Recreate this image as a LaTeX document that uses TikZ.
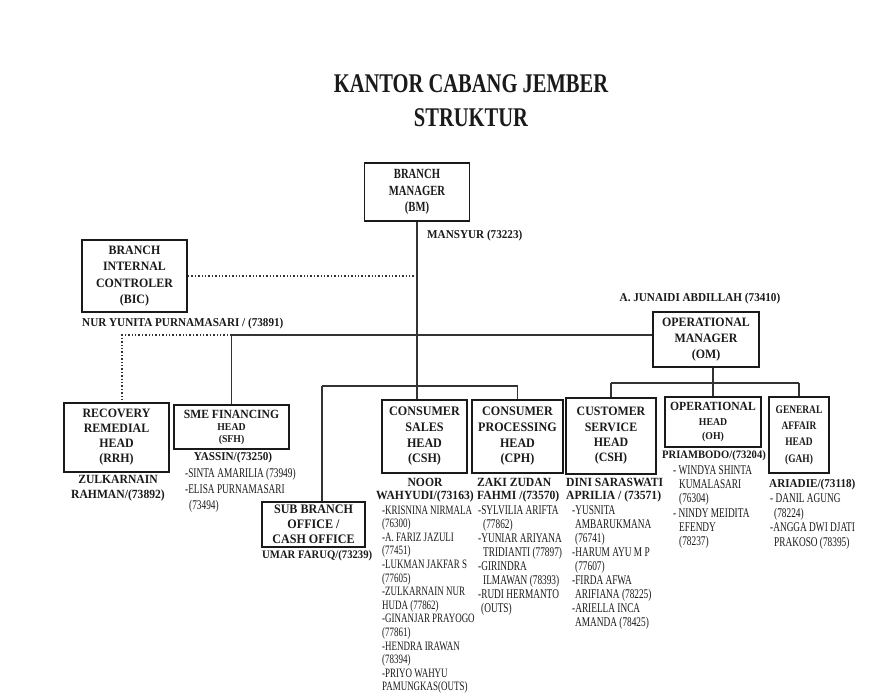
\documentclass[tikz,border=0pt]{standalone}
\usepackage{fontspec}
\setmainfont[FakeStretch=0.93]{Liberation Serif}
\newfontfamily\narrowfont[FakeStretch=0.76]{Liberation Serif}
\newfontfamily\listfont[FakeStretch=0.7]{Liberation Serif}
\newfontfamily\gahfont[FakeStretch=0.82]{Liberation Serif}
\definecolor{ink}{HTML}{1A1A1A}
\definecolor{wire}{HTML}{333333}
\tikzset{
  box/.style={draw=ink, line width=1.8pt, align=center, inner sep=0pt, text=ink,
    font=\bfseries\fontsize{13}{15.7}\selectfont},
  conn/.style={draw=wire, line width=1.1pt},
  dotconn/.style={draw=wire, line width=1.3pt, dash pattern=on 1.4pt off 2pt},
  nm/.style={inner sep=0pt, align=center, text=ink, font=\bfseries\fontsize{12}{13.5}\selectfont},
  lst/.style={inner sep=0pt, anchor=north west, align=left, text=ink,
    font=\listfont\fontsize{13.3}{13.6}\selectfont}
}
\begin{document}
\begin{tikzpicture}[x=1pt,y=-1pt]
\useasboundingbox[fill=white] (0,0) rectangle (893,696);

% title
\node[inner sep=0pt, align=center, text=ink, font=\narrowfont\bfseries\fontsize{27}{34}\selectfont] (title) at (471,101) {KANTOR CABANG JEMBER\\STRUKTUR};

% boxes
\node[box, minimum width=105pt, minimum height=58pt, font=\narrowfont\bfseries\fontsize{14}{16.5}\selectfont] (BM) at (417,192) {BRANCH\\MANAGER\\(BM)};
\node[box, minimum width=105pt, minimum height=72pt, font=\bfseries\fontsize{12.8}{16.3}\selectfont] (BIC) at (134.5,276) {BRANCH\\INTERNAL\\CONTROLER\\(BIC)};
\node[box, minimum width=106pt, minimum height=55pt, font=\bfseries\fontsize{12.8}{16}\selectfont] (OM) at (706,339.5) {OPERATIONAL\\MANAGER\\(OM)};
\node[box, minimum width=105pt, minimum height=69pt, font=\bfseries\fontsize{12.8}{15}\selectfont] (RRH) at (116.5,437.5) {RECOVERY\\REMEDIAL\\HEAD\\(RRH)};
\node[box, minimum width=115pt, minimum height=44pt, font=\bfseries\fontsize{10.5}{12}\selectfont] (SFH) at (231.5,427) {{\fontsize{12.5}{12}\selectfont SME FINANCING}\\HEAD\\(SFH)};
\node[box, minimum width=103pt, minimum height=45pt, font=\bfseries\fontsize{13}{15}\selectfont] (SUB) at (313.5,524.5) {SUB BRANCH\\OFFICE /\\CASH OFFICE};
\node[box, minimum width=85pt, minimum height=73pt] (CSH) at (424.5,436.5) {CONSUMER\\SALES\\HEAD\\(CSH)};
\node[box, minimum width=91pt, minimum height=73pt] (CPH) at (517.5,436.5) {CONSUMER\\PROCESSING\\HEAD\\(CPH)};
\node[box, minimum width=90pt, minimum height=76pt, font=\bfseries\fontsize{12.8}{15.3}\selectfont] (CS) at (611,436) {CUSTOMER\\SERVICE\\HEAD\\(CSH)};
\node[box, minimum width=96pt, minimum height=50pt, font=\bfseries\fontsize{10.5}{14.5}\selectfont] (OH) at (713,422) {{\fontsize{12.5}{14.5}\selectfont OPERATIONAL}\\HEAD\\(OH)};
\node[box, minimum width=60pt, minimum height=76pt, font=\gahfont\bfseries\fontsize{11.5}{16.3}\selectfont] (GAH) at (799,435) {GENERAL\\AFFAIR\\HEAD\\(GAH)};

% names
\node[nm, anchor=west] (bmn) at (427,236) {MANSYUR (73223)};
\node[nm, anchor=west] (bicn) at (82,324) {NUR YUNITA PURNAMASARI / (73891)};
\node[nm] (omn) at (700,299) {A. JUNAIDI ABDILLAH (73410)};
\node[nm, font=\bfseries\fontsize{12.5}{15}\selectfont] (rrhn) at (118,488.5) {ZULKARNAIN\\RAHMAN/(73892)};
\node[nm] (sfhn) at (233,458) {YASSIN/(73250)};
\node[nm, anchor=west, font=\bfseries\fontsize{11.5}{13}\selectfont] (subn) at (262,556) {UMAR FARUQ/(73239)};
\node[nm, font=\bfseries\fontsize{12.5}{13}\selectfont] (cshn) at (425,490.5) {NOOR\\WAHYUDI/(73163)};
\node[nm, anchor=west, align=left, font=\bfseries\fontsize{12.5}{13}\selectfont] (cphn) at (477,490.5) {ZAKI ZUDAN\\FAHMI /(73570)};
\node[nm, anchor=west, align=left, font=\bfseries\fontsize{12.5}{13}\selectfont] (csn) at (566,490.5) {DINI SARASWATI\\APRILIA / (73571)};
\node[nm, anchor=west, font=\bfseries\fontsize{11.4}{13}\selectfont] (ohn) at (662,456) {PRIAMBODO/(73204)};
\node[nm, anchor=west] (gahn) at (769,485) {ARIADIE/(73118)};

% lists
\node[lst, font=\listfont\fontsize{13.3}{16}\selectfont] (sfhl) at (185,468.5) {-SINTA AMARILIA (73949)\\-ELISA PURNAMASARI\\\hspace*{4pt}(73494)};
\node[lst, font=\listfont\fontsize{12.8}{13.6}\selectfont] (cshl) at (382,505.5) {-KRISNINA NIRMALA\\(76300)\\-A. FARIZ JAZULI\\(77451)\\-LUKMAN JAKFAR S\\(77605)\\-ZULKARNAIN NUR\\HUDA (77862)\\-GINANJAR PRAYOGO\\(77861)\\-HENDRA IRAWAN\\(78394)\\-PRIYO WAHYU\\PAMUNGKAS(OUTS)};
\node[lst, font=\listfont\fontsize{13.3}{14}\selectfont] (cphl) at (478,505.5) {-SYLVILIA ARIFTA\\\hspace*{5pt}(77862)\\-YUNIAR ARIYANA\\\hspace*{5pt}TRIDIANTI (77897)\\-GIRINDRA\\\hspace*{5pt}ILMAWAN (78393)\\-RUDI HERMANTO\\\hspace*{3pt}(OUTS)};
\node[lst, font=\listfont\fontsize{13.3}{14}\selectfont] (csl) at (572,505.5) {-YUSNITA\\\hspace*{3pt}AMBARUKMANA\\\hspace*{3pt}(76741)\\-HARUM AYU M P\\\hspace*{3pt}(77607)\\-FIRDA AFWA\\\hspace*{3pt}ARIFIANA (78225)\\-ARIELLA INCA\\\hspace*{3pt}AMANDA (78425)};
\node[lst, font=\listfont\fontsize{13.3}{14.2}\selectfont] (ohl) at (673,465.5) {- WINDYA SHINTA\\\hspace*{6pt}KUMALASARI\\\hspace*{6pt}(76304)\\- NINDY MEIDITA\\\hspace*{6pt}EFENDY\\\hspace*{6pt}(78237)};
\node[lst, font=\listfont\fontsize{13.3}{14.6}\selectfont] (gahl) at (770,493.5) {- DANIL AGUNG\\\hspace*{4pt}(78224)\\-ANGGA DWI DJATI\\\hspace*{4pt}PRAKOSO (78395)};

% junction coordinates
\coordinate (hB) at (0,335);
\coordinate (hC) at (0,386);
\coordinate (hD) at (0,383);
\coordinate (sb) at (322,386);
\coordinate (rr) at (122,335);

% connectors
\draw[conn] (BM.south) -- (BM.south |- CSH.north);
\draw[dotconn] (BIC.east) -- (BIC.east -| BM.south);
\draw[conn] (SFH.north |- hB) -- (OM.west |- hB);
\draw[dotconn] (SFH.north |- hB) -- (rr) -- (rr |- RRH.north);
\draw[conn] (SFH.north |- hB) -- (SFH.north);
\draw[conn] (sb) -- (CPH.north |- hC) -- (CPH.north);
\draw[conn] (sb) -- (sb |- SUB.north);
\draw[conn] (OM.south -| OH.north) -- (OH.north);
\draw[conn] (CS.north |- hD) -- (GAH.north |- hD);
\draw[conn] (CS.north |- hD) -- (CS.north);
\draw[conn] (GAH.north |- hD) -- (GAH.north);
\end{tikzpicture}
\end{document}
